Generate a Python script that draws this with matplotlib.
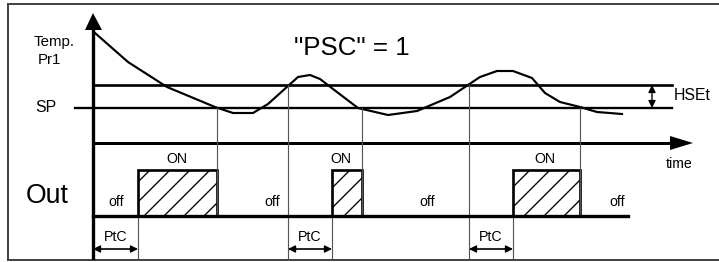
import matplotlib
matplotlib.use("Agg")
import matplotlib.pyplot as plt
from matplotlib.patches import Rectangle, Polygon

plt.rcParams['font.family'] = ['Liberation Sans', 'DejaVu Sans']
plt.rcParams['hatch.color'] = 'black'
plt.rcParams['hatch.linewidth'] = 0.8

# ---- data (diagram units: x = time, y = level, y grows downward) ----
curve_t = [95, 128, 167, 215, 233, 253, 268, 288, 298, 310, 320, 333, 358,
           388, 417, 450, 468, 480, 497, 513, 532, 545, 560, 580, 597, 622]
curve_v = [33, 62, 87, 107, 113, 113, 104, 86, 77, 75, 79, 89, 108,
           115, 111, 97, 85, 77, 71, 71, 78, 93, 102, 107, 112, 114]
sp_level = 108
hset_level = 85
on_start = [138, 332, 513]
on_end = [217, 362, 580]
ptc_start = [93, 288, 469]
sp_cross = [217, 362, 580]      # curve falls back to SP -> output off
hs_cross = [288, 469]           # curve reaches SP+HSEt
off_labels_x = [116, 272, 427, 617]
on_labels_x = [177, 341, 545]

# ---- layout constants ----
W, H = 719, 262
axis_x = 93
axis_top = 13
time_y = 143
time_tip = 693
out_low = 216
out_high = 170
bottom = 258
ptc_y = 249

fig = plt.figure(figsize=(W / 120, H / 120), dpi=120)
ax = fig.add_axes([0, 0, 1, 1])
ax.set_xlim(0, W)
ax.set_ylim(H, 0)
ax.axis('off')

# outer frame
ax.plot([W + 5, 8, 8, W + 5], [4, 4, 260, 260], color='#444444', lw=1.2,
        solid_joinstyle='miter')

# vertical axis with arrow
ax.plot([axis_x, axis_x], [axis_top + 14, bottom], color='black', lw=2.0)
ax.add_patch(Polygon([[axis_x - 8, axis_top + 17], [axis_x + 9, axis_top + 17],
                      [axis_x, axis_top]], closed=True, color='black', lw=0))

# SP and SP+HSEt lines
ax.plot([75, 672], [sp_level, sp_level], color='black', lw=1.4)
ax.plot([axis_x, 672], [hset_level, hset_level], color='black', lw=1.6)

# time axis with arrow
ax.plot([axis_x, time_tip - 20], [time_y, time_y], color='black', lw=1.8)
ax.add_patch(Polygon([[time_tip - 23, time_y - 7], [time_tip - 23, time_y + 7],
                      [time_tip, time_y]], closed=True, color='black', lw=0))

# temperature curve
ax.plot(curve_t, curve_v, color='black', lw=1.3, solid_joinstyle='round')

# thin vertical guide lines
for x in sp_cross:
    ax.plot([x, x], [sp_level, out_low], color='#555555', lw=0.7)
for x in hs_cross:
    ax.plot([x, x], [hset_level, bottom], color='#555555', lw=0.7)
for x in on_start:
    ax.plot([x, x], [out_low, bottom], color='#555555', lw=0.7)

# output baseline
ax.plot([axis_x, 628], [out_low, out_low], color='black', lw=2.0)

# ON blocks
for s, e in zip(on_start, on_end):
    ax.add_patch(Rectangle((s, out_high), e - s, out_low - out_high,
                           facecolor='white', edgecolor='black', lw=1.6,
                           hatch='//'))

# PtC arrows
for s, e in zip(ptc_start, on_start):
    ax.annotate('', xy=(s, ptc_y), xytext=(e, ptc_y),
                arrowprops=dict(arrowstyle='<|-|>', color='black', lw=0.8,
                                mutation_scale=9, shrinkA=0, shrinkB=0))
    ax.plot([s + 8, e - 8], [ptc_y, ptc_y], color='#666666', lw=1.0)
    ax.text((s + e) / 2, 237, 'PtC', fontsize=8.5, ha='center', va='center')

# HSEt arrow
ax.annotate('', xy=(652, hset_level), xytext=(652, sp_level),
            arrowprops=dict(arrowstyle='<|-|>', color='black', lw=0.8,
                            mutation_scale=9, shrinkA=0, shrinkB=0))

# texts
ax.text(54, 42, 'Temp.', fontsize=9, ha='center', va='center')
ax.text(49, 60, 'Pr1', fontsize=9, ha='center', va='center')
ax.text(46, 108, 'SP', fontsize=9.5, ha='center', va='center')
ax.text(352, 48, '"PSC" = 1', fontsize=15.5, ha='center', va='center')
ax.text(692, 96, 'HSEt', fontsize=9.5, ha='center', va='center')
ax.text(47, 196, 'Out', fontsize=16, ha='center', va='center')
ax.text(679, 164, 'time', fontsize=8.5, ha='center', va='center')
for x in off_labels_x:
    ax.text(x, 202, 'off', fontsize=8.5, ha='center', va='center')
for x in on_labels_x:
    ax.text(x, 159, 'ON', fontsize=8.5, ha='center', va='center')

fig.savefig('out.png', dpi=120, facecolor='white')
